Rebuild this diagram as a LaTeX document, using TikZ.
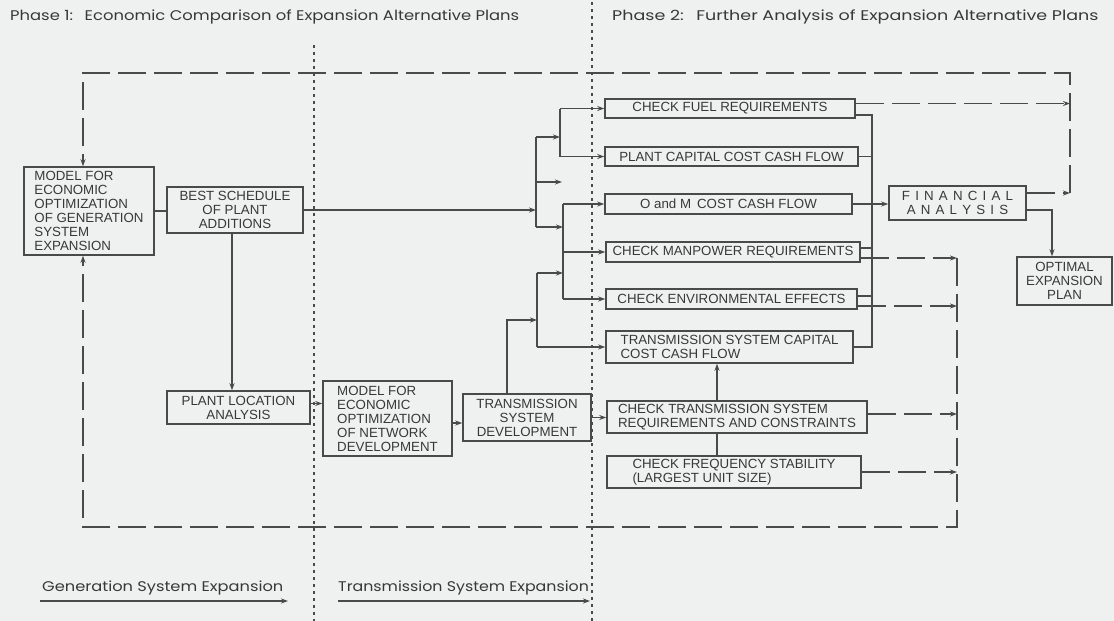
\documentclass[tikz,border=0pt]{standalone}
\usepackage{fontspec}
\setmainfont{Liberation Sans}
\newfontfamily\ttlfont{Poppins}
\usetikzlibrary{arrows.meta,calc}
\definecolor{bg}{HTML}{EEF1F0}
\definecolor{ink}{HTML}{4A4A4A}
\definecolor{txt}{HTML}{383838}
\begin{document}
\begin{tikzpicture}[x=1pt,y=-1pt,
  box/.style={draw=ink, line width=1.5pt, inner sep=2pt, font=\fontsize{13.3}{14}\selectfont, text=txt, align=center},
  wire/.style={draw=ink, line width=1.2pt},
  arr/.style={wire, -{Stealth[length=7pt,width=5pt]}},
  dline/.style={wire, dash pattern=on 28pt off 8pt},
  darr/.style={dline, -{Stealth[length=7pt,width=5pt]}},
  divider/.style={draw=ink, line width=1.4pt, dash pattern=on 3pt off 4pt},
  ttl/.style={font=\ttlfont\fontsize{14}{16}\selectfont, text=txt, inner sep=0pt}
]
\fill[bg] (0,0) rectangle (1114,621);
\useasboundingbox (0,0) rectangle (1114,621);

% dividers
\coordinate (d1t) at (314,45); \coordinate (d1b) at (314,621);
\coordinate (d2t) at (592,2);  \coordinate (d2b) at (592,621);
\draw[divider] (d1t) -- (d1b);
\draw[divider] (d2t) -- (d2b);

% titles
\node[ttl, anchor=west] (t1) at (10,17) {\scalebox{1.17}[1]{Phase 1:\hspace{10pt}Economic Comparison of Expansion Alternative Plans}};
\node[ttl, anchor=west] (t2) at (612,17) {\scalebox{1.25}[1]{Phase 2:\hspace{10pt}Further Analysis of Expansion Alternative Plans}};

% boxes
\node[box, minimum width=130pt, minimum height=88pt, align=left] (gen) at (89,211) {MODEL FOR\\ECONOMIC\\OPTIMIZATION\\OF GENERATION\\SYSTEM\\EXPANSION};
\node[box, minimum width=136pt, minimum height=46pt] (best) at (235,210) {BEST SCHEDULE\\OF PLANT\\ADDITIONS};
\node[box, minimum width=143pt, minimum height=33pt] (plantloc) at (238.5,407.5) {PLANT LOCATION\\ANALYSIS};
\node[box, minimum width=129pt, minimum height=75pt, align=left] (netmodel) at (387.5,418.5) {MODEL FOR\\ECONOMIC\\OPTIMIZATION\\OF NETWORK\\DEVELOPMENT};
\node[box, minimum width=128pt, minimum height=47pt] (tsd) at (527,417.5) {TRANSMISSION\\SYSTEM\\DEVELOPMENT};
\node[box, minimum width=250pt, minimum height=19pt] (fuel) at (730,108.5) {CHECK FUEL REQUIREMENTS};
\node[box, minimum width=253pt, minimum height=19pt] (pcap) at (731.5,156.5) {PLANT CAPITAL COST CASH FLOW};
\node[box, minimum width=247pt, minimum height=20pt] (om) at (728.5,204) {O and M\hspace{6pt}COST CASH FLOW};
\node[box, minimum width=254pt, minimum height=20pt] (man) at (733,252) {CHECK MANPOWER REQUIREMENTS};
\node[box, minimum width=251pt, minimum height=20pt] (env) at (731.5,299) {CHECK ENVIRONMENTAL EFFECTS};
\node[box, minimum width=247pt, minimum height=32pt, align=left] (tcap) at (729.5,347) {TRANSMISSION SYSTEM CAPITAL\\COST CASH FLOW};
\node[box, minimum width=260pt, minimum height=32pt, align=left] (tsr) at (737,417) {CHECK TRANSMISSION SYSTEM\\REQUIREMENTS AND CONSTRAINTS};
\node[box, minimum width=254pt, minimum height=32pt, align=left] (freq) at (734,472) {CHECK FREQUENCY STABILITY\\(LARGEST UNIT SIZE)};
\node[box, minimum width=137pt, minimum height=34pt] (fin) at (957.5,203) {\spaceskip=5.2pt F I N A N C I A L\\\spaceskip=5.2pt A N A L Y S I S};
\node[box, minimum width=95pt, minimum height=48pt] (opt) at (1064.5,281) {OPTIMAL\\EXPANSION\\PLAN};

% top feedback (dashed)
\coordinate (fbR) at (1070,193);
\coordinate (fbT) at (1070,73);
\coordinate (fbL) at (83,73);
\coordinate (finfb) at ([yshift=10pt]fin.east);
\coordinate (fuelout) at ([yshift=5pt]fuel.east);
\draw[darr] (finfb) -- (finfb -| fbR);
\draw[darr] (fuelout) -- (fuelout -| fbR);
\draw[darr] (fbR) -- (fbT) -- (fbL) -- (fbL |- gen.north);

% bottom return (dashed)
\coordinate (rtT) at (957,258);
\coordinate (rtB) at (957,527);
\coordinate (rtL) at (83,527);
\coordinate (manout) at ([yshift=-6pt]man.east);
\coordinate (envout) at ([yshift=-7pt]env.east);
\coordinate (tsrout) at ([yshift=3pt]tsr.east);
\draw[darr] (manout) -- (manout -| rtT);
\draw[darr] (envout) -- (envout -| rtT);
\draw[darr] (tsrout) -- (tsrout -| rtT);
\draw[darr] (freq.east) -- (freq.east -| rtT);
\draw[darr] (rtT) -- (rtB) -- (rtL) -- (rtL |- gen.south);

% right collecting bus
\coordinate (bR) at (872,0);
\coordinate (fuelb) at ([yshift=-6.5pt]fuel.east);
\coordinate (manb) at ([yshift=4pt]man.east);
\coordinate (envb) at ([yshift=3pt]env.east);
\draw[wire] (fuelb) -| (bR |- tcap.east) -- (tcap.east);
\draw[wire] (pcap.east) -- (pcap.east -| bR);
\draw[wire] (manb) -- (manb -| bR);
\draw[wire] (envb) -- (envb -| bR);
\draw[arr] (om.east) -- (om.east -| fin.west);

% financial analysis -> optimal plan
\coordinate (fo) at ([yshift=-7pt]fin.east);
\coordinate (oi) at ([xshift=-12.5pt]opt.north);
\draw[arr] (fo) -| (oi);

% left distribution buses
\coordinate (b1top) at (536,137);
\coordinate (b1mid) at (536,182);
\coordinate (b1bot) at (536,227);
\coordinate (stub) at (562,182);
\coordinate (b2a) at (560,0);
\coordinate (b2b) at (563,0);
\coordinate (b3) at (537,0);
\coordinate (b3top) at (537,273);
\coordinate (tsdup) at (507,320);
\draw[arr] (best.east) -- (best.east -| b1top);
\draw[wire] (b1top) -- (b1bot);
\draw[arr] (b1top) -- (b1top -| b2a);
\draw[arr] (b1mid) -- (stub);
\draw[arr] (b1bot) -- (b1bot -| b2b);
\draw[wire] (b2a |- fuel.west) -- (b2a |- pcap.west);
\draw[arr] (b2a |- fuel.west) -- (fuel.west);
\draw[arr] (b2a |- pcap.west) -- (pcap.west);
\draw[wire] (b2b |- om.west) -- (b2b |- env.west);
\draw[arr] (b2b |- om.west) -- (om.west);
\draw[arr] (b2b |- man.west) -- (man.west);
\draw[arr] (b2b |- env.west) -- (env.west);
\draw[wire] (b3top) -- (b3 |- tcap.west);
\draw[arr] (b3top) -- (b3top -| b2b);
\draw[arr] (b3 |- tcap.west) -- (tcap.west);
\coordinate (tsdn) at ([xshift=-20pt]tsd.north);
\draw[arr] (tsdn) |- (b3 |- tsdup);

% transmission checks
\draw[arr] (tsd.east) -- (tsd.east -| tsr.west);
\coordinate (tv) at ([xshift=-20pt]tsr.north);
\coordinate (tvb) at ([xshift=-20pt]tsr.south);
\draw[arr] (tv) -- (tv |- tcap.south);
\draw[wire] (tvb) -- (tvb |- freq.north);

% left side
\draw[wire] (gen.east) -- (gen.east -| best.west);
\coordinate (bs) at ([xshift=-3pt]best.south);
\draw[arr] (bs) -- (bs |- plantloc.north);
\coordinate (pl) at ([yshift=4pt]plantloc.east);
\draw[arr] (pl) -- (pl -| netmodel.west);
\coordinate (nm) at ([yshift=-4.5pt]netmodel.east);
\draw[arr] (nm) -- (nm -| tsd.west);

% bottom legend
\node[ttl, anchor=west] (l1) at (42,588) {\scalebox{1.16}[1]{Generation System Expansion}};
\node[ttl, anchor=west] (l2) at (338,588) {\scalebox{1.13}[1]{Transmission System Expansion}};
\coordinate (a1s) at (40,601); \coordinate (a1e) at (288,601);
\coordinate (a2s) at (338,601); \coordinate (a2e) at (590,601);
\draw[arr] (a1s) -- (a1e);
\draw[arr] (a2s) -- (a2e);
\end{tikzpicture}
\end{document}
